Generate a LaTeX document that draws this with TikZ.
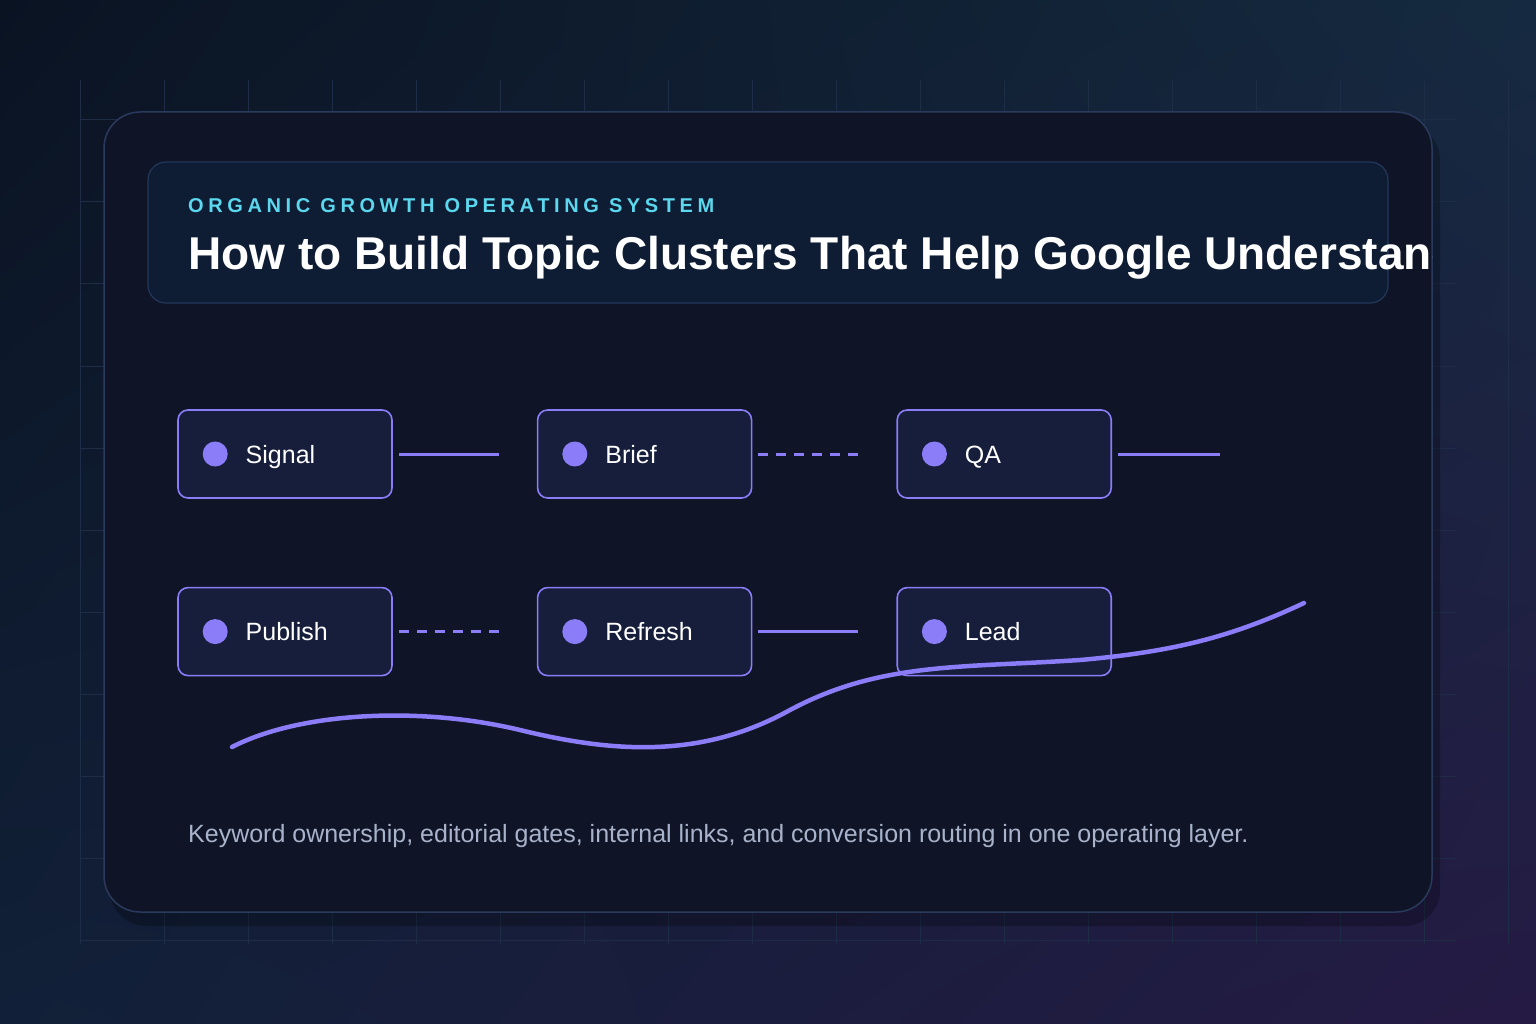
\documentclass[tikz,border=0pt]{standalone}
\usepackage{fontspec}
\setmainfont{Liberation Sans}
\usetikzlibrary{positioning,shadings}
\definecolor{bgA}{HTML}{0A1322}
\definecolor{bgB}{HTML}{152A40}
\definecolor{bgC}{HTML}{112038}
\definecolor{bgD}{HTML}{251A44}
\definecolor{gridc}{HTML}{1E2C46}
\definecolor{cardfill}{HTML}{0F1526}
\definecolor{cardline}{HTML}{2A3A5C}
\definecolor{headfill}{HTML}{0E1C34}
\definecolor{headline}{HTML}{22375A}
\definecolor{kicker}{HTML}{5CD8EE}
\definecolor{stepfill}{HTML}{171E3B}
\definecolor{accent}{HTML}{8B7CF8}
\definecolor{foot}{HTML}{A8B3CB}
\tikzset{
  stage/.style={draw=accent, line width=1.6pt, fill=stepfill, rounded corners=10pt,
    minimum width=214pt, minimum height=88pt, inner sep=0pt},
  dot/.style={circle, fill=accent, minimum size=25pt, inner sep=0pt},
  steplabel/.style={text=white, font=\fontsize{25}{28}\selectfont, anchor=west},
  link/.style={accent, line width=3pt, shorten <=6pt, shorten >=38pt},
  dashlink/.style={link, dash pattern=on 10pt off 8pt}
}
\begin{document}
\begin{tikzpicture}[x=1pt,y=-1pt]
\useasboundingbox (0,0) rectangle (1536,1024);
\shade[upper left=bgA, upper right=bgB, lower left=bgC, lower right=bgD] (0,0) rectangle (1536,1024);
% faint grid
\foreach \gx in {80,164,...,1508}
  \draw[gridc, line width=1pt] (\gx,80) -- (\gx,944);
\foreach \gy in {120,202,...,940}
  \draw[gridc, line width=1pt] (80,\gy) -- (1456,\gy);
% card
\fill[black, opacity=0.25, rounded corners=36pt] (110,124) rectangle (1440,926);
\draw[cardline, fill=cardfill, line width=1.5pt, rounded corners=36pt] (104,112) rectangle (1432,912);
\draw[headline, fill=headfill, line width=1.2pt, rounded corners=18pt] (148,162) rectangle (1388,303);
\begin{scope}
\clip (104,112) rectangle (1432,912);
\node[anchor=base west, text=kicker, inner sep=0pt, font=\bfseries\fontsize{20}{24}\selectfont\addfontfeature{LetterSpace=23}] (kicker) at (188,213) {ORGANIC GROWTH OPERATING SYSTEM};
\node[anchor=base west, text=white, inner sep=0pt, font=\bfseries\fontsize{46}{52}\selectfont] (title) at (188,270) {How to Build Topic Clusters That Help Google Understand};
\end{scope}
% steps
\node[stage] (signal) at (285,454) {};
\node[stage, right=144pt of signal] (brief) {};
\node[stage, right=144pt of brief] (qa) {};
\node[stage, below=88pt of signal] (publish) {};
\node[stage, right=144pt of publish] (refresh) {};
\node[stage, right=144pt of refresh] (lead) {};
\foreach \s/\t in {signal/Signal, brief/Brief, qa/QA, publish/Publish, refresh/Refresh, lead/Lead}{
  \node[dot] (\s-dot) at ([xshift=38pt]\s.west) {};
  \node[steplabel, anchor=base west] (\s-text) at ([xshift=65pt,yshift=-9pt]\s.west) {\t};
}
\coordinate[right=108pt of qa.east] (qa-end);
\draw[link] (signal) -- (brief);
\draw[dashlink] (brief) -- (qa);
\draw[link, shorten >=0pt] (qa) -- (qa-end);
\draw[dashlink] (publish) -- (refresh);
\draw[link] (refresh) -- (lead);
% trend curve
\draw[accent, line width=4.5pt, line cap=round] (232,747)
  .. controls (300,712) and (420,706) .. (520,730)
  .. controls (610,752) and (700,760) .. (790,710)
  .. controls (880,662) and (960,668) .. (1080,660)
  .. controls (1170,652) and (1230,638) .. (1304,603);
\node[anchor=base west, text=foot, inner sep=0pt, font=\fontsize{25}{28}\selectfont] (footer) at (188,842) {Keyword ownership, editorial gates, internal links, and conversion routing in one operating layer.};
\end{tikzpicture}
\end{document}
